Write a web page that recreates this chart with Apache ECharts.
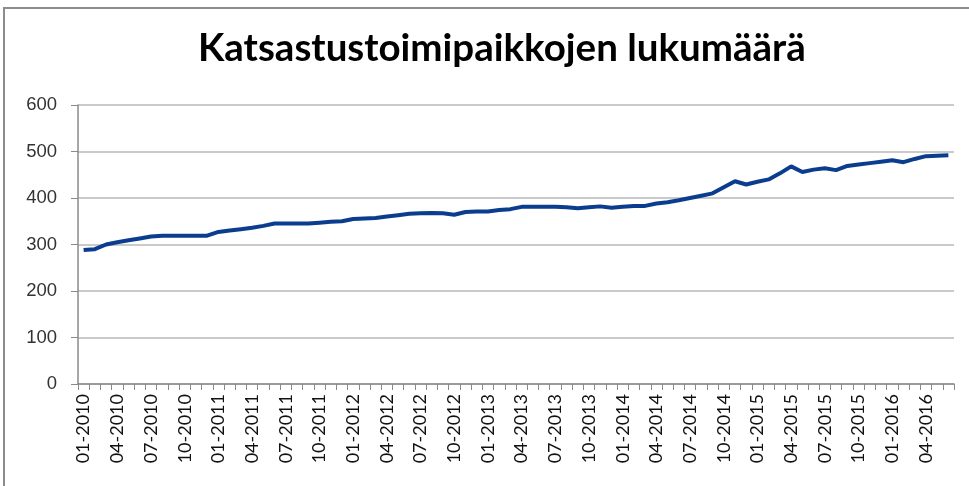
<!DOCTYPE html>
<html>
<head>
<meta charset="utf-8">
<script src="https://cdn.jsdelivr.net/npm/echarts@6/dist/echarts.min.js"></script>
<style>html,body{margin:0;padding:0;background:#fff}#c{width:969px;height:486px}</style>
</head>
<body>
<div id="c"></div>
<script>
const titleText = 'Katsastustoimipaikkojen lukumäärä';
const categories = [
'01-2010','02-2010','03-2010','04-2010','05-2010','06-2010','07-2010','08-2010','09-2010','10-2010','11-2010','12-2010',
'01-2011','02-2011','03-2011','04-2011','05-2011','06-2011','07-2011','08-2011','09-2011','10-2011','11-2011','12-2011',
'01-2012','02-2012','03-2012','04-2012','05-2012','06-2012','07-2012','08-2012','09-2012','10-2012','11-2012','12-2012',
'01-2013','02-2013','03-2013','04-2013','05-2013','06-2013','07-2013','08-2013','09-2013','10-2013','11-2013','12-2013',
'01-2014','02-2014','03-2014','04-2014','05-2014','06-2014','07-2014','08-2014','09-2014','10-2014','11-2014','12-2014',
'01-2015','02-2015','03-2015','04-2015','05-2015','06-2015','07-2015','08-2015','09-2015','10-2015','11-2015','12-2015',
'01-2016','02-2016','03-2016','04-2016','05-2016','06-2016'
];
const values = [
288,290,300,305,309,313,317,319,319,319,319,319,
327,330,333,336,340,345,345,345,345,347,349,350,
355,356,357,360,363,366,367,368,367,364,370,371,
371,374,376,381,381,381,381,380,378,380,382,379,
381,383,383,388,391,395,400,405,410,423,436,429,
435,440,453,468,456,461,464,460,469,472,475,478,
481,477,484,490,491,492
];
const yTicks = [0,100,200,300,400,500,600];

const chart = echarts.init(document.getElementById('c'), null, {renderer:'canvas'});
chart.setOption({
  animation: false,
  backgroundColor: '#fff',
  graphic: [{
    type: 'rect', shape: {x: 4, y: 8, width: 1000, height: 600},
    style: {fill: 'none', stroke: '#8c8c8c', lineWidth: 2}, z: 100
  }],
  title: {
    text: titleText, left: 193, top: 24,
    textStyle: {fontFamily: 'Lato', fontWeight: 'bold', fontSize: 38.5, color: '#000'}
  },
  grid: {left: 78, right: 15, top: 105, bottom: 102, containLabel: false},
  xAxis: {
    type: 'category', data: categories, boundaryGap: true,
    axisLine: {lineStyle: {color: '#8a8a8a', width: 1.5}},
    axisTick: {show: true, interval: 0, alignWithLabel: false, length: 6, lineStyle: {color: '#8a8a8a'}},
    axisLabel: {interval: 2, rotate: 90, margin: 10, fontFamily: 'Lato', fontSize: 18, color: '#111'},
    splitLine: {show: false}
  },
  yAxis: {
    type: 'value', min: yTicks[0], max: yTicks[yTicks.length-1], interval: 100,
    axisLine: {show: true, lineStyle: {color: '#8a8a8a', width: 1.5}},
    axisTick: {show: true, length: 7, lineStyle: {color: '#8a8a8a'}},
    axisLabel: {margin: 21, fontFamily: 'Liberation Sans', fontSize: 18.5, color: '#333'},
    splitLine: {show: true, lineStyle: {color: '#b8b8b8', width: 1.5}}
  },
  series: [{
    type: 'line', data: values, symbol: 'none', smooth: false,
    lineStyle: {color: '#0b3d8e', width: 4}
  }]
});
</script>
</body>
</html>
